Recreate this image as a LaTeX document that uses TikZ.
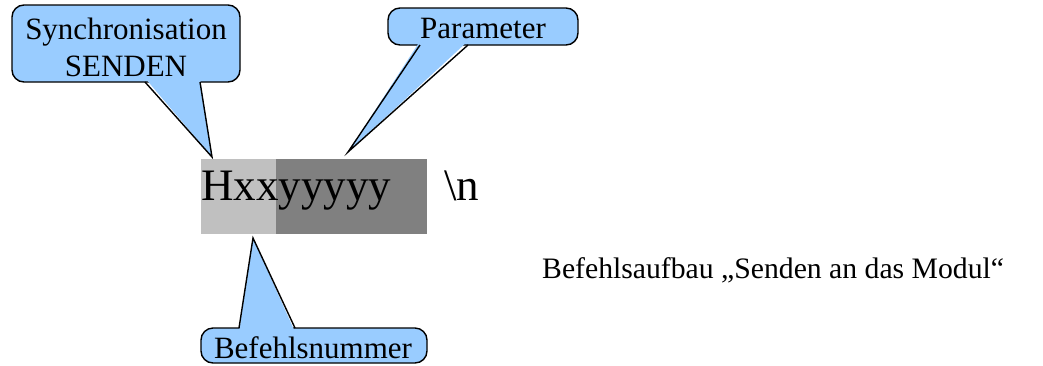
\documentclass[tikz,border=0pt]{standalone}
\usepackage{fontspec}
\setmainfont{Liberation Serif}
\definecolor{bubble}{HTML}{99CCFF}
\definecolor{lightblock}{HTML}{C0C0C0}
\definecolor{darkblock}{HTML}{808080}
\tikzset{
  bubblebox/.style={draw=black, fill=bubble, line width=1.4pt, rounded corners=12pt,
                    inner sep=0pt},
  tailfill/.style={fill=bubble},
  tailline/.style={draw=black, line width=1.4pt, line join=miter},
  bubbletext/.style={font=\fontsize{31}{37}\selectfont, align=center, inner sep=0pt},
  bigtext/.style={font=\fontsize{45}{50}\selectfont, inner sep=0pt, anchor=base west},
  captiontext/.style={font=\fontsize{29.7}{34}\selectfont, inner sep=0pt, anchor=base west}
}
\begin{document}
\begin{tikzpicture}[x=1pt,y=-1pt]
\useasboundingbox (0,0) rectangle (1043,365);

% command blocks
\fill[lightblock] (201,159) rectangle (276,234);
\fill[darkblock] (276,159) rectangle (427,234);
\node[bigtext] (cmd) at (201,200) {Hxxyyyyy};
\node[bigtext] (nl) at (444,200) {\textbackslash n};

% callout: Synchronisation SENDEN
\node[bubblebox, minimum width=228pt, minimum height=77pt] (sync) at (126,43.5) {};
\node[bubbletext] (synctext) at (126,47) {Synchronisation\\SENDEN};
\coordinate (synctip) at (212,157);
\fill[tailfill] (145,78) -- (synctip) -- (200,78) -- cycle;
\draw[tailline] (145,82) -- (synctip) -- (200,82);

% callout: Parameter
\node[bubblebox, minimum width=190pt, minimum height=37pt] (param) at (483,26.5) {};
\node[bubbletext] (paramtext) at (483,28) {Parameter};
\coordinate (paramtip) at (348,152);
\fill[tailfill] (420,41) -- (paramtip) -- (468,41) -- cycle;
\draw[tailline] (420,45) -- (paramtip) -- (468,45);

% callout: Befehlsnummer
\node[bubblebox, minimum width=226pt, minimum height=35pt] (num) at (314,345.5) {};
\node[bubbletext] (numtext) at (313,348) {Befehlsnummer};
\coordinate (numtip) at (253,238);
\fill[tailfill] (239,332) -- (numtip) -- (295,332) -- cycle;
\draw[tailline] (239,328) -- (numtip) -- (295,328);

% caption
\node[captiontext] (caption) at (542,278) {Befehlsaufbau „Senden an das Modul“};
\end{tikzpicture}
\end{document}
